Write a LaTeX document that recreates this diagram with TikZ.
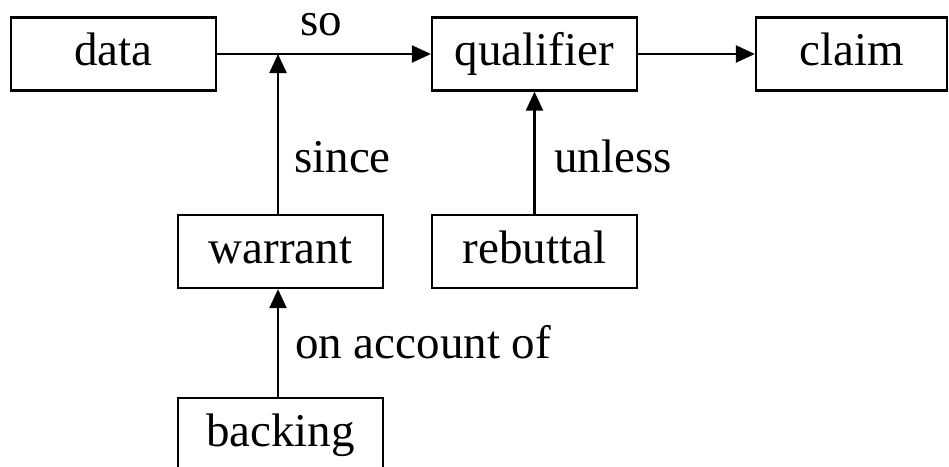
\documentclass[tikz,border=0pt]{standalone}
\usepackage{fontspec}
\setmainfont{Liberation Serif}
\usetikzlibrary{arrows.meta}
\begin{document}
\begin{tikzpicture}[x=1pt,y=-1pt,
  box/.style={draw,line width=2.3pt,rectangle,minimum width=205pt,minimum height=73pt,
    inner sep=0pt,text height=33pt,text depth=10pt,font=\fontsize{47}{52}\selectfont},
  lbl/.style={inner sep=0pt,font=\fontsize{47}{52}\selectfont,text height=33pt,text depth=10pt},
  arr/.style={line width=2.3pt,-{Triangle[length=19pt,width=17pt]}}]
\useasboundingbox (0,0) rectangle (949,466);
\clip (0,0) rectangle (949,466);
\node[box] (data) at (113.5,54) {data};
\node[box] (qualifier) at (534.5,54) {qualifier};
\node[box,minimum width=191pt] (claim) at (851.5,54) {claim};
\node[box] (warrant) at (280.5,251.5) {warrant};
\node[box] (rebuttal) at (534.5,251.5) {rebuttal};
\node[box] (backing) at (280.5,434.5) {backing};
\coordinate (j) at (278,54);
\draw[arr] (data.east) -- (qualifier.west);
\draw[arr] (qualifier.east) -- (claim.west);
\draw[arr] (warrant.north -| j) -- (j);
\draw[arr] (rebuttal.north) -- (qualifier.south);
\draw[arr] (backing.north -| j) -- (warrant.south -| j);
\node[lbl] (so) at (321,23.5) {so};
\node[lbl,anchor=west] (since) at (294,160.5) {since};
\node[lbl,anchor=west] (unless) at (554,160.5) {unless};
\node[lbl,anchor=west] (onaccount) at (295,346.5) {on account of};
\end{tikzpicture}
\end{document}
